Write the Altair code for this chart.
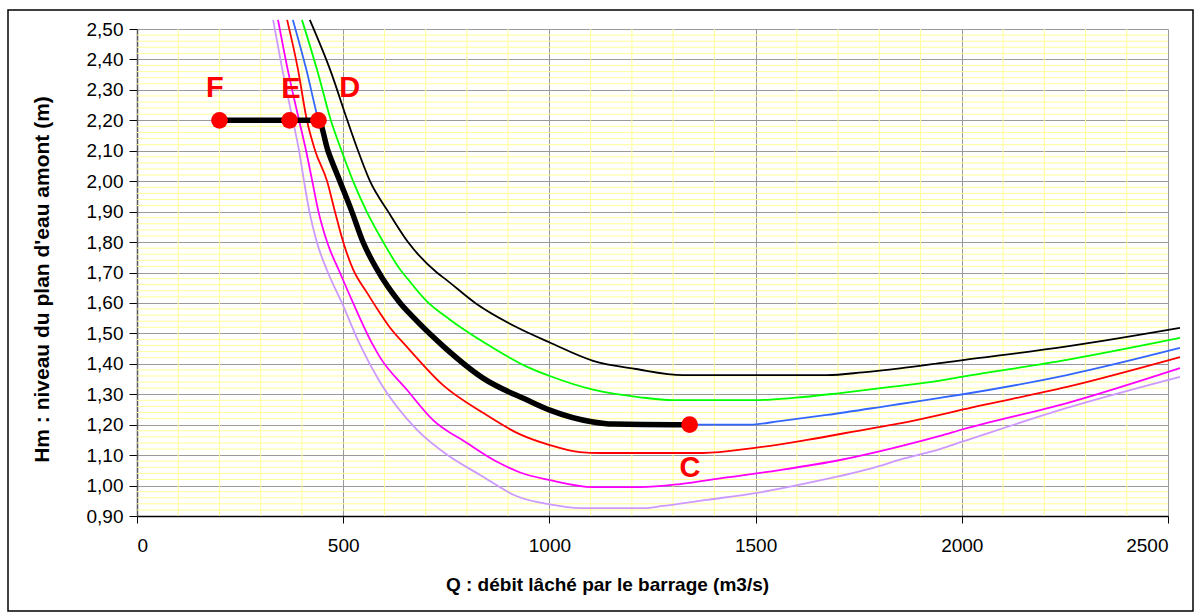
import altair as alt
import pandas as pd

# ---- axis ticks / grid values ----
Q_TICKS = [0, 500, 1000, 1500, 2000, 2500]
H_TICKS = [0.90, 1.00, 1.10, 1.20, 1.30, 1.40, 1.50, 1.60, 1.70, 1.80, 1.90,
           2.00, 2.10, 2.20, 2.30, 2.40, 2.50]
Q_MINOR = [100, 200, 300, 400, 600, 700, 800, 900, 1100, 1200, 1300, 1400,
           1600, 1700, 1800, 1900, 2100, 2200, 2300, 2400]
H_MINOR = [round(0.9 + 0.02 * i, 2) for i in range(1, 80) if i % 5]

# ---- curves (Q m3/s, Hm m) ----
black_q = [419, 470, 510, 536, 565, 609, 657, 727, 751, 820, 921, 1001, 1106, 1210, 1324, 1673, 1760, 1850, 1947, 2003, 2255, 2529]
black_h = [2.53, 2.36, 2.20, 2.10, 2.00, 1.90, 1.80, 1.70, 1.675, 1.60, 1.52, 1.47, 1.41, 1.383, 1.363, 1.363, 1.372, 1.385, 1.402, 1.412, 1.457, 1.518]

green_q = [400, 440, 470, 496, 524, 557, 597, 638, 657, 703, 759, 790, 860, 946, 1001, 1106, 1220, 1300, 1499, 1591, 1705, 1833, 1947, 2003, 2255, 2529]
green_h = [2.53, 2.35, 2.20, 2.10, 2.00, 1.90, 1.80, 1.71, 1.678, 1.605, 1.545, 1.515, 1.455, 1.39, 1.36, 1.315, 1.29, 1.281, 1.281, 1.288, 1.304, 1.325, 1.345, 1.358, 1.413, 1.485]

blue_q = [378, 410, 440, 463, 492, 521, 548, 582, 638, 669, 745, 839, 946, 1001, 1106, 1154, 1300, 1340, 1486, 1559, 1673, 1802, 1850, 1947, 2003, 2255, 2529]
blue_h = [2.53, 2.37, 2.20, 2.10, 2.00, 1.90, 1.80, 1.71, 1.60, 1.554, 1.455, 1.353, 1.281, 1.248, 1.209, 1.202, 1.20, 1.20, 1.20, 1.212, 1.232, 1.258, 1.268, 1.288, 1.300, 1.363, 1.452]

red_q = [364, 390, 412, 432, 461, 480, 500, 524, 558, 589, 610, 655, 742, 839, 929, 1001, 1074, 1123, 1372, 1494, 1625, 1785, 1850, 1947, 2003, 2255, 2529]
red_h = [2.53, 2.37, 2.20, 2.10, 2.00, 1.90, 1.80, 1.71, 1.633, 1.567, 1.525, 1.455, 1.33, 1.239, 1.168, 1.133, 1.110, 1.107, 1.107, 1.123, 1.15, 1.189, 1.204, 1.232, 1.25, 1.324, 1.422]

magenta_q = [342, 365, 393, 410, 425, 440, 461, 492, 524, 572, 589, 655, 718, 800, 873, 929, 1001, 1106, 1220, 1317, 1421, 1559, 1705, 1833, 1947, 2003, 2255, 2529]
magenta_h = [2.53, 2.37, 2.20, 2.10, 2.00, 1.90, 1.80, 1.70, 1.60, 1.462, 1.422, 1.314, 1.215, 1.14, 1.078, 1.043, 1.018, 0.995, 0.995, 1.005, 1.025, 1.051, 1.084, 1.123, 1.163, 1.185, 1.271, 1.386]

lilac_q = [330, 352, 378, 393, 405, 418, 436, 463, 497, 541, 589, 679, 752, 832, 921, 1001, 1074, 1230, 1275, 1382, 1503, 1639, 1785, 1850, 1947, 2003, 2255, 2529]
lilac_h = [2.53, 2.37, 2.20, 2.10, 2.00, 1.90, 1.80, 1.70, 1.60, 1.462, 1.34, 1.183, 1.101, 1.035, 0.965, 0.938, 0.926, 0.926, 0.933, 0.953, 0.976, 1.012, 1.058, 1.085, 1.12, 1.145, 1.255, 1.357]

# thick operating path F-E-D ... C
path_q = [200, 370, 440, 463, 492, 521, 548, 582, 638, 669, 745, 839, 946, 1001, 1106, 1154, 1300, 1340]
path_h = [2.20, 2.20, 2.20, 2.10, 2.00, 1.90, 1.80, 1.71, 1.60, 1.554, 1.455, 1.353, 1.281, 1.248, 1.209, 1.202, 1.20, 1.20]

# points and labels
pt_names = ["F", "E", "D", "C"]
pt_q = [200, 370, 440, 1340]
pt_h = [2.20, 2.20, 2.20, 1.20]
lab_q = [189, 373, 516, 1341]
lab_h = [2.306, 2.303, 2.306, 1.058]

SERIES = ["noir", "vert", "bleu", "rouge", "magenta", "mauve"]
COLORS = ["#000000", "#00FF00", "#3366FF", "#FF0000", "#FF00FF", "#CC99FF"]
curves = {"noir": (black_q, black_h), "vert": (green_q, green_h), "bleu": (blue_q, blue_h),
          "rouge": (red_q, red_h), "magenta": (magenta_q, magenta_h), "mauve": (lilac_q, lilac_h)}

rows = []
for k, (qs, hs) in curves.items():
    for i, (q, h) in enumerate(zip(qs, hs)):
        rows.append({"serie": k, "Q": q, "H": h, "i": i})
curve_df = pd.DataFrame(rows)
path_df = pd.DataFrame({"Q": path_q, "H": path_h, "i": list(range(len(path_q)))})
pts_df = pd.DataFrame({"nom": pt_names, "Q": pt_q, "H": pt_h})
lab_df = pd.DataFrame({"nom": pt_names, "Q": lab_q, "H": lab_h})
qminor_df = pd.DataFrame({"Q": Q_MINOR})
hminor_df = pd.DataFrame({"H": H_MINOR})

FONT = "Liberation Sans"
xscale = alt.Scale(domain=[0, 2500], nice=False, zero=False)
yscale = alt.Scale(domain=[0.9, 2.5], nice=False, zero=False)

x_axis = alt.Axis(
    values=Q_TICKS, format="d", title="Q : débit lâché par le barrage (m3/s)",
    grid=True, gridColor="#9a9a9a", gridWidth=1, labelOverlap=False,
    domainColor="#000000", domainWidth=1.5, tickColor="#000000", tickSize=7,
    labelFontSize=19, labelFont=FONT, labelColor="#000000", labelPadding=13,
    titleFontSize=19, titleFont=FONT, titleFontWeight="bold", titleColor="#000000",
    titleX=470, titleY=68, titleBaseline="middle", titleAlign="center")
y_axis = alt.Axis(
    values=H_TICKS, labelExpr="replace(format(datum.value, '.2f'), '.', ',')",
    title="Hm : niveau du plan d'eau amont (m)", labelOverlap=False, labelBound=False,
    grid=True, gridColor="#9a9a9a", gridWidth=1,
    domainColor="#555555", domainWidth=1.5, tickColor="#000000", tickSize=8,
    labelFontSize=19, labelFont=FONT, labelColor="#000000", labelPadding=6,
    titleFontSize=21, titleFont=FONT, titleFontWeight="bold", titleColor="#000000",
    titleX=-95, titleY=250, titleAngle=-90, titleBaseline="middle", titleAlign="center")

X = alt.X("Q:Q", scale=xscale, axis=x_axis)
Y = alt.Y("H:Q", scale=yscale, axis=y_axis)

vminor = alt.Chart(qminor_df).mark_rule(color="#FFFF99", strokeWidth=1).encode(x=X)
hminor = alt.Chart(hminor_df).mark_rule(color="#FFFF99", strokeWidth=1).encode(y=Y)

lines = alt.Chart(curve_df).mark_line(strokeWidth=1.8, interpolate="monotone", clip=False).encode(
    x=X, y=Y,
    color=alt.Color("serie:N", scale=alt.Scale(domain=SERIES, range=COLORS), legend=None),
    detail="serie:N", order="i:Q")

path = alt.Chart(path_df).mark_line(color="#000000", strokeWidth=5.5, interpolate="monotone").encode(
    x=X, y=Y, order="i:Q")

points = alt.Chart(pts_df).mark_circle(color="#FF0000", opacity=1, size=280).encode(x=X, y=Y)

labels = alt.Chart(lab_df).mark_text(color="#FF0000", font=FONT, fontSize=29, fontWeight="bold",
                                     align="center", baseline="middle").encode(
    x=X, y=Y, text="nom:N")

border = alt.Chart(pd.DataFrame({"a": [0]})).mark_rect(
    fill=None, fillOpacity=0, stroke="#000000", strokeWidth=1.5).encode(
    x=alt.value(-129), x2=alt.value(1056), y=alt.value(-19), y2=alt.value(582))

chart = alt.layer(vminor, hminor, lines, path, points, labels, border).properties(
    width=1031, height=487,
    autosize=alt.AutoSizeParams(type="none"),
    padding={"left": 137, "top": 29, "right": 28, "bottom": 98},
    background="#FFFFFF",
).configure_view(stroke=None)

chart.save("out.html", embed_options={"renderer": "svg", "actions": False})
